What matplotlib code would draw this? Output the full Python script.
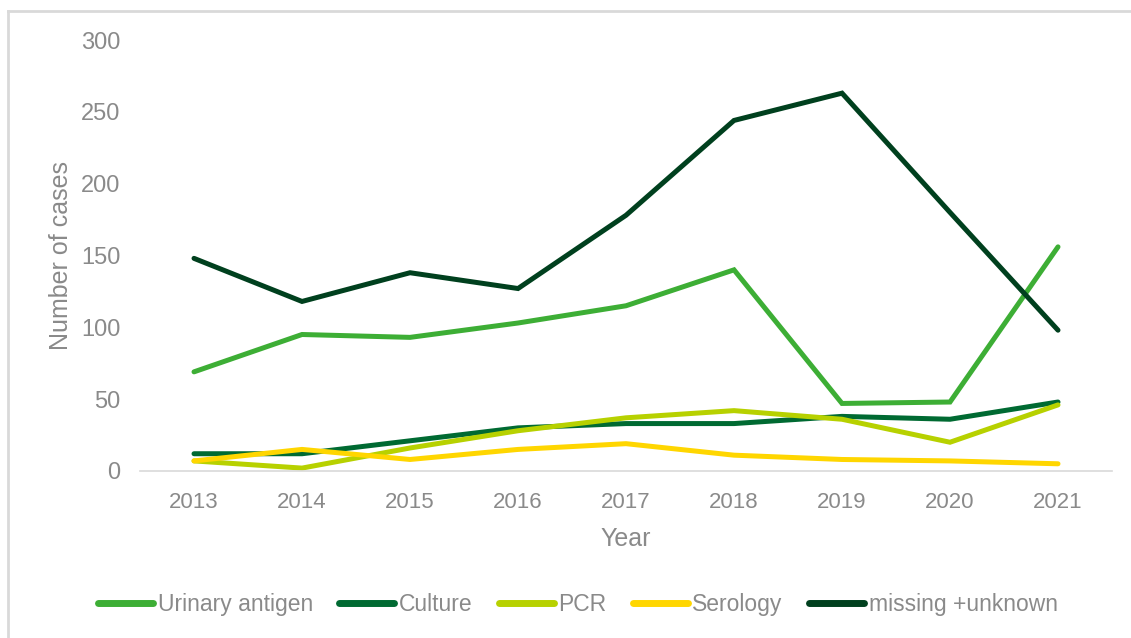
import matplotlib
matplotlib.use('Agg')
import matplotlib.pyplot as plt
from matplotlib.lines import Line2D

plt.rcParams['font.family'] = ['Liberation Sans', 'DejaVu Sans']

years = ['2013', '2014', '2015', '2016', '2017', '2018', '2019', '2020', '2021']
urinary_antigen = [69, 95, 93, 103, 115, 140, 47, 48, 156]
culture = [12, 12, 21, 30, 33, 33, 38, 36, 48]
pcr = [7, 2, 16, 28, 37, 42, 36, 20, 46]
serology = [7, 15, 8, 15, 19, 11, 8, 7, 5]
missing_unknown = [148, 118, 138, 127, 178, 244, 263, 180, 98]

series = [
    ('Urinary antigen', urinary_antigen, '#3DAE35'),
    ('Culture', culture, '#006A32'),
    ('PCR', pcr, '#B7D100'),
    ('Serology', serology, '#FFD600'),
    ('missing +unknown', missing_unknown, '#00401E'),
]

grey = '#8A8A8A'

fig = plt.figure(figsize=(11.31, 6.38), dpi=100)
ax = fig.add_axes([0.1238, 0.2618, 0.8594, 0.6755])

x = range(len(years))
for name, vals, col in series:
    ax.plot(x, vals, color=col, lw=3.6, label=name,
            solid_capstyle='round', solid_joinstyle='miter')

ax.set_xlim(-0.5, len(years) - 0.5)
ax.set_ylim(0, 300)
ax.set_yticks(range(0, 301, 50))
ax.set_xticks(list(x))
ax.set_xticklabels(years)

for s in ['top', 'right', 'left']:
    ax.spines[s].set_visible(False)
ax.spines['bottom'].set_color('#D9D9D9')
ax.spines['bottom'].set_linewidth(1.2)
ax.tick_params(axis='y', length=0, labelsize=17, labelcolor=grey, pad=14)
ax.tick_params(axis='x', length=0, labelsize=16, labelcolor=grey, pad=15)

ax.set_xlabel('Year', fontsize=18, color=grey, labelpad=10)
ax.set_ylabel('Number of cases', fontsize=18, color=grey, labelpad=6)

handles = [Line2D([], [], color=c, lw=5, solid_capstyle='round') for _, _, c in series]
fig.legend(handles, [n for n, _, _ in series], loc='center',
           bbox_to_anchor=(0.511, 0.052), ncol=5, frameon=False,
           fontsize=16.5, labelcolor=grey, handlelength=2.4,
           handletextpad=0.2, columnspacing=1.15)

# outer frame lines (top and left)
fig.add_artist(Line2D([8 / 1131, 1], [1 - 11 / 638, 1 - 11 / 638],
                      color='#D9D9D9', lw=2, transform=fig.transFigure))
fig.add_artist(Line2D([8 / 1131, 8 / 1131], [0, 1 - 11 / 638],
                      color='#D9D9D9', lw=2, transform=fig.transFigure))

fig.savefig('out.png', dpi=100)
